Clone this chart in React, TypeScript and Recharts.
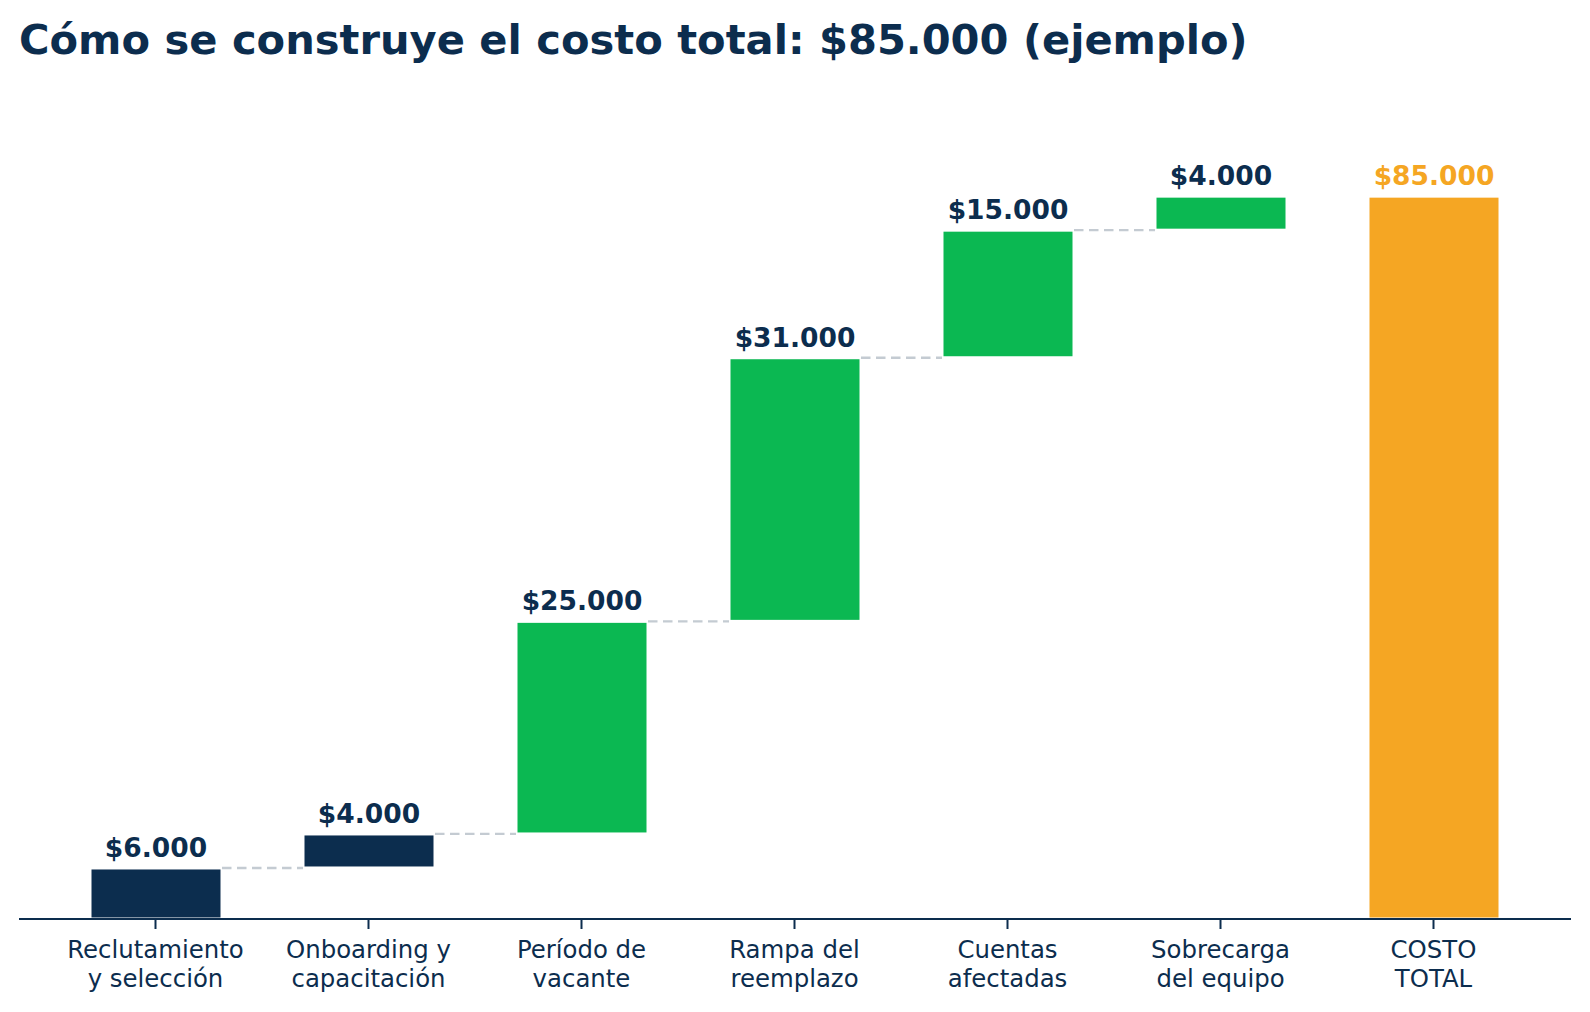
import { BarChart, Bar, XAxis, YAxis, LabelList } from 'recharts';

const categories = [
  'Reclutamiento\ny selección',
  'Onboarding y\ncapacitación',
  'Período de\nvacante',
  'Rampa del\nreemplazo',
  'Cuentas\nafectadas',
  'Sobrecarga\ndel equipo',
  'COSTO\nTOTAL',
];
const amounts = [6000, 4000, 25000, 31000, 15000, 4000, 85000];
const kinds = ['directo', 'directo', 'indirecto', 'indirecto', 'indirecto', 'indirecto', 'total'];
const yDomain = [0, 93250];

const NAVY = '#0c2d4e';
const COLORS: Record<string, string> = { directo: NAVY, indirecto: '#0bb852', total: '#f5a623' };
const DASH = '#c4cbd2';
const FONT = '"DejaVu Sans", sans-serif';

const CHART_W = 1590;
const CHART_H = 1012;
const AXIS_H = 93;
const MARGIN = { top: 126, right: 19, bottom: 0, left: 19 };
const PAD = { left: 30, right: 31 };
const BAND = (CHART_W - MARGIN.left - MARGIN.right - PAD.left - PAD.right) / categories.length;
const BAR_SIZE = 132;

// waterfall: each step starts where the previous one ended, the total starts at 0
let running = 0;
const rows = categories.map((name, i) => {
  const base = kinds[i] === 'total' ? 0 : running;
  if (kinds[i] !== 'total') running += amounts[i];
  return { name, base, amount: amounts[i], kind: kinds[i] };
});

const fmt = (v: number) => '$' + String(v).replace(/\B(?=(\d{3})+(?!\d))/g, '.');

function CategoryTick({ x, y, payload }: any) {
  const lines = String(payload.value).split('\n');
  return (
    <text x={x} y={y} textAnchor="middle" fill={NAVY} fontSize={24.4} fontFamily={FONT}>
      {lines.map((l, i) => (
        <tspan key={i} x={x} dy={i === 0 ? 29 : 28.8}>
          {l}
        </tspan>
      ))}
    </text>
  );
}

function StepShape(props: any) {
  const { x, y, width, height, index } = props;
  const inset = 1.5;
  const next = rows[index + 1];
  return (
    <g>
      <rect
        x={x + inset}
        y={y + inset}
        width={Math.max(width - 2 * inset, 0)}
        height={Math.max(height - 2 * inset, 0)}
        fill={COLORS[rows[index].kind]}
      />
      {next && next.kind !== 'total' && (
        <line x1={x + width} x2={x + BAND} y1={y} y2={y} stroke={DASH} strokeWidth={2.3} strokeDasharray="9.5 5.5" />
      )}
    </g>
  );
}

function ValueLabel(props: any) {
  const { x, y, width, value, index } = props;
  return (
    <text
      x={x + width / 2}
      y={y - 11}
      textAnchor="middle"
      fill={rows[index].kind === 'total' ? COLORS.total : NAVY}
      fontSize={26.5}
      fontWeight="bold"
      fontFamily={FONT}
    >
      {fmt(value)}
    </text>
  );
}

export default function App() {
  return (
    <div style={{ position: 'absolute', left: 0, top: 0, width: CHART_W, height: CHART_H, background: '#fff' }}>
      <div
        style={{
          position: 'absolute',
          left: 19,
          top: 19,
          fontFamily: FONT,
          fontWeight: 'bold',
          fontSize: 41.6,
          lineHeight: '41.6px',
          color: NAVY,
          whiteSpace: 'nowrap',
        }}
      >
        Cómo se construye el costo total: $85.000 (ejemplo)
      </div>
      <BarChart width={CHART_W} height={CHART_H} data={rows} margin={MARGIN} barSize={BAR_SIZE}>
        <XAxis
          dataKey="name"
          interval={0}
          height={AXIS_H}
          padding={PAD}
          axisLine={{ stroke: NAVY, strokeWidth: 2 }}
          tickLine={{ stroke: NAVY, strokeWidth: 2 }}
          tickSize={10}
          tickMargin={0}
          tick={<CategoryTick />}
        />
        <YAxis hide domain={yDomain} />
        <Bar dataKey="base" stackId="w" fill="transparent" isAnimationActive={false} />
        <Bar dataKey="amount" stackId="w" shape={<StepShape />} isAnimationActive={false}>
          <LabelList dataKey="amount" content={<ValueLabel />} />
        </Bar>
      </BarChart>
    </div>
  );
}
